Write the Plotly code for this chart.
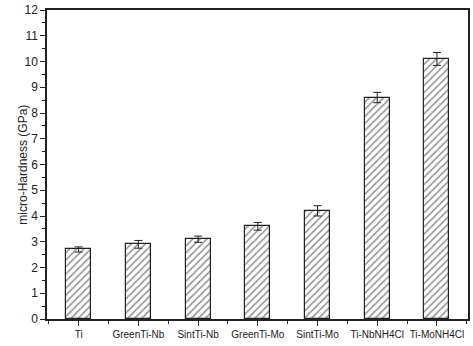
import plotly.graph_objects as go

categories = ["Ti", "GreenTi-Nb", "SintTi-Nb", "GreenTi-Mo", "SintTi-Mo", "Ti-NbNH4Cl", "Ti-MoNH4Cl"]
hardness = [2.7, 2.9, 3.1, 3.6, 4.2, 8.6, 10.1]
errors = [0.1, 0.15, 0.12, 0.15, 0.2, 0.2, 0.25]
y_ticks = list(range(0, 13))

fig = go.Figure()
fig.add_trace(go.Bar(
    x=list(range(len(categories))), y=hardness,
    width=0.42,
    marker=dict(color="white", line=dict(color="#222", width=1.2),
                pattern=dict(shape="/", fgcolor="#222", bgcolor="white", size=5, solidity=0.3)),
    error_y=dict(type="data", array=errors, color="#222", thickness=1, width=4),
))

fig.update_layout(
    width=473, height=346,
    margin=dict(l=47, r=3, t=8, b=27),
    plot_bgcolor="white", paper_bgcolor="white",
    font=dict(family="Liberation Sans, Arial, sans-serif", color="#222"),
    showlegend=False,
    bargap=0,
    annotations=[dict(text="micro-Hardness (GPa)", textangle=-90, xref="paper", yref="paper",
                      x=-0.059, y=0.5, xanchor="center", yanchor="middle", showarrow=False,
                      font=dict(size=12, color="#222"))],
)
fig.update_xaxes(
    range=[-0.53, 6.52],
    tickmode="array", tickvals=list(range(len(categories))), ticktext=categories,
    ticks="outside", ticklen=5, tickwidth=1, tickcolor="#222",
    minor=dict(tickmode="array", tickvals=[i + 0.5 for i in range(-1, len(categories))], ticks="outside", ticklen=3, tickcolor="#222"),
    showline=True, linecolor="#222", linewidth=1.5, mirror=True,
    showgrid=False, zeroline=False,
    tickfont=dict(size=10),
)
fig.update_yaxes(
    range=[0, 12],
    tickmode="array", tickvals=y_ticks,
    ticks="outside", ticklen=5, tickwidth=1, tickcolor="#222",
    minor=dict(dtick=0.5, ticks="outside", ticklen=3, tickcolor="#222"),
    showline=True, linecolor="#222", linewidth=1.5, mirror=True,
    showgrid=False, zeroline=False,
    tickfont=dict(size=12),
)

fig.write_html("out.html")
